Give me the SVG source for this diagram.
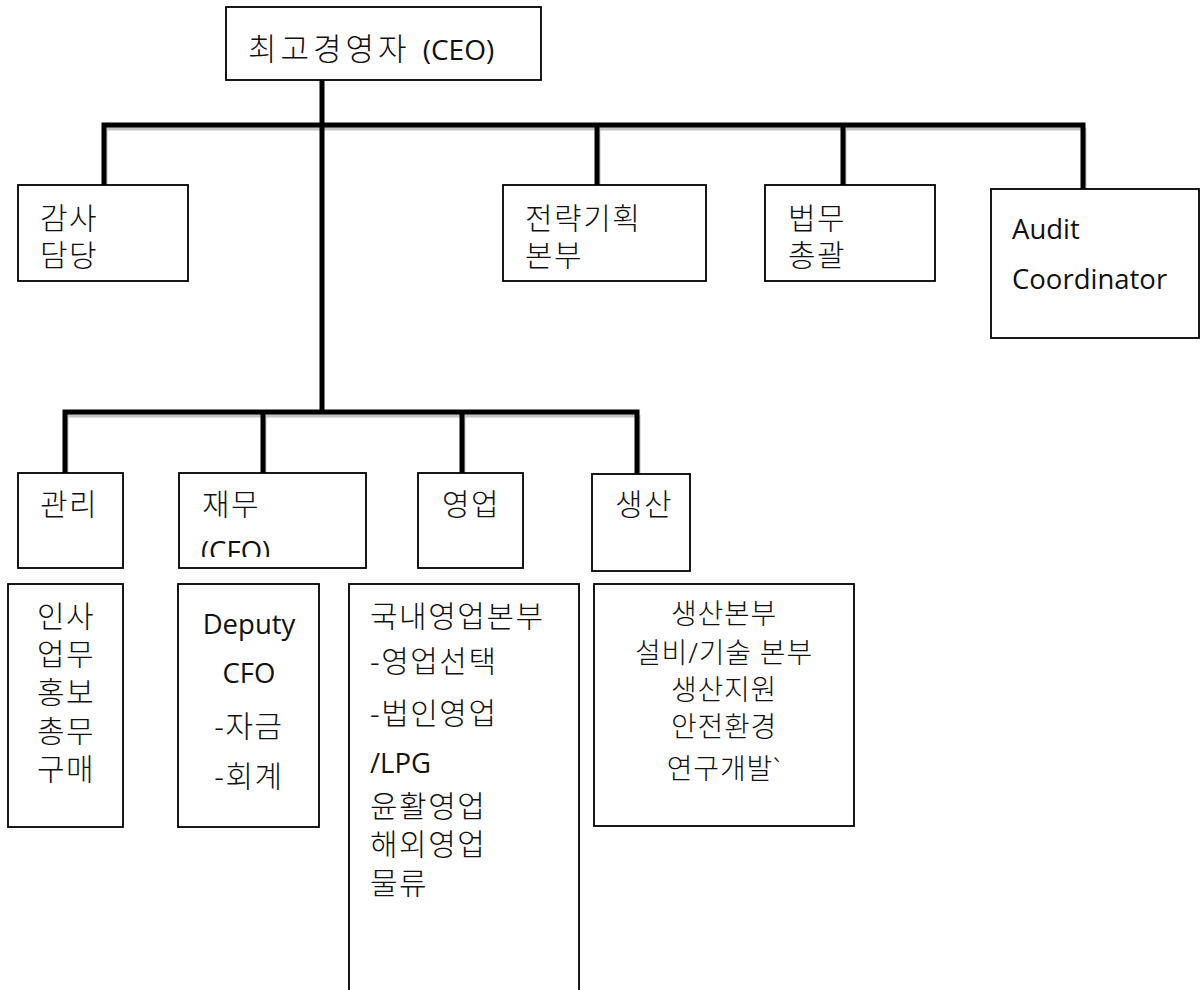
<svg xmlns="http://www.w3.org/2000/svg" width="1200" height="990" viewBox="0 0 1200 990">
<style>
.box{fill:#fff;stroke:#000;stroke-width:1.8}
.t{font-family:"Noto Sans","Noto Sans CJK KR",sans-serif;font-size:30px;font-weight:300;fill:#111;letter-spacing:1.5px}
.l{letter-spacing:0;font-size:27.5px;font-family:"Open Sans","Noto Sans",sans-serif;font-weight:400}
.m{text-anchor:middle}
.p{font-size:28px;letter-spacing:0.8px}
.ln{stroke:#000;stroke-width:5;fill:none;stroke-linecap:square}
.sh{stroke:#c4c4c4;stroke-width:5;fill:none}
</style>
<defs>
<clipPath id="cfoclip"><rect x="180" y="474" width="186" height="83"/></clipPath>
</defs>
<rect width="1200" height="990" fill="#fff"/>
<g id="connectors">
<g transform="translate(1,3)">
<path class="sh" d="M104,125 H1083 M104,125 V185 M597,125 V185 M843,125 V185 M1083,125 V189"/>
<path class="sh" d="M65,412 H637 M65,412 V473 M263,412 V473 M462,412 V473 M637,412 V474"/>
</g>
<path class="ln" d="M322,80 V410"/>
<path class="ln" d="M104,125 H1083 M104,125 V183 M597,125 V183 M843,125 V183 M1083,125 V187"/>
<path class="ln" d="M65,412 H637 M65,412 V471 M263,412 V471 M462,412 V471 M637,412 V472"/>
</g>
<g id="ceo"><rect class="box" x="226" y="7" width="315" height="73"/><text class="t" x="248" y="60" style="font-size:31px"><tspan style="letter-spacing:4px">최고경영자 </tspan><tspan class="l" style="font-size:28px">(CEO)</tspan></text></g>
<g id="audit"><rect class="box" x="18" y="185" width="170" height="96"/><text class="t" x="40" y="229">감사</text><text class="t" x="40" y="266">담당</text></g>
<g id="strategy"><rect class="box" x="503" y="185" width="203" height="96"/><text class="t" x="525" y="229">전략기획</text><text class="t" x="525" y="266">본부</text></g>
<g id="legal"><rect class="box" x="765" y="185" width="170" height="96"/><text class="t" x="788" y="229">법무</text><text class="t" x="788" y="266">총괄</text></g>
<g id="auditcoord"><rect class="box" x="991" y="189" width="208" height="149"/><text class="t l" x="1012" y="239">Audit</text><text class="t l" x="1012" y="289">Coordinator</text></g>
<g id="admin"><rect class="box" x="18" y="473" width="105" height="95"/><text class="t" x="40" y="515">관리</text></g>
<g id="finance"><rect class="box" x="179" y="473" width="187" height="95"/><text class="t" x="202" y="515">재무</text><text class="t l" x="201" y="561" clip-path="url(#cfoclip)">(CFO)</text></g>
<g id="sales"><rect class="box" x="418" y="473" width="105" height="95"/><text class="t" x="442" y="515">영업</text></g>
<g id="production"><rect class="box" x="592" y="474" width="98" height="97"/><text class="t" x="615" y="515">생산</text></g>
<g id="admin-detail"><rect class="box" x="8" y="584" width="115" height="243"/>
<text class="t m" x="66" y="627">인사</text><text class="t m" x="66" y="665">업무</text><text class="t m" x="66" y="703">홍보</text><text class="t m" x="66" y="742">총무</text><text class="t m" x="66" y="780">구매</text></g>
<g id="finance-detail"><rect class="box" x="178" y="584" width="141" height="243"/>
<text class="t m l" x="249" y="634">Deputy</text><text class="t m l" x="249" y="683">CFO</text><text class="t m" x="249" y="737">-자금</text><text class="t m" x="249" y="787">-회계</text></g>
<g id="sales-detail"><rect class="box" x="349" y="584" width="230" height="420"/>
<text class="t" x="370" y="627">국내영업본부</text><text class="t" x="370" y="672">-영업선택</text><text class="t" x="370" y="724">-법인영업</text><text class="t l" x="370" y="773">/LPG</text><text class="t" x="370" y="817">윤활영업</text><text class="t" x="370" y="855">해외영업</text><text class="t" x="370" y="894">물류</text></g>
<g id="production-detail"><rect class="box" x="594" y="584" width="260" height="242"/>
<text class="t m p" x="724" y="624">생산본부</text><text class="t m p" x="724" y="663">설비/기술 본부</text><text class="t m p" x="724" y="700">생산지원</text><text class="t m p" x="724" y="737">안전환경</text><text class="t m p" x="724" y="779">연구개발`</text></g>
</svg>
